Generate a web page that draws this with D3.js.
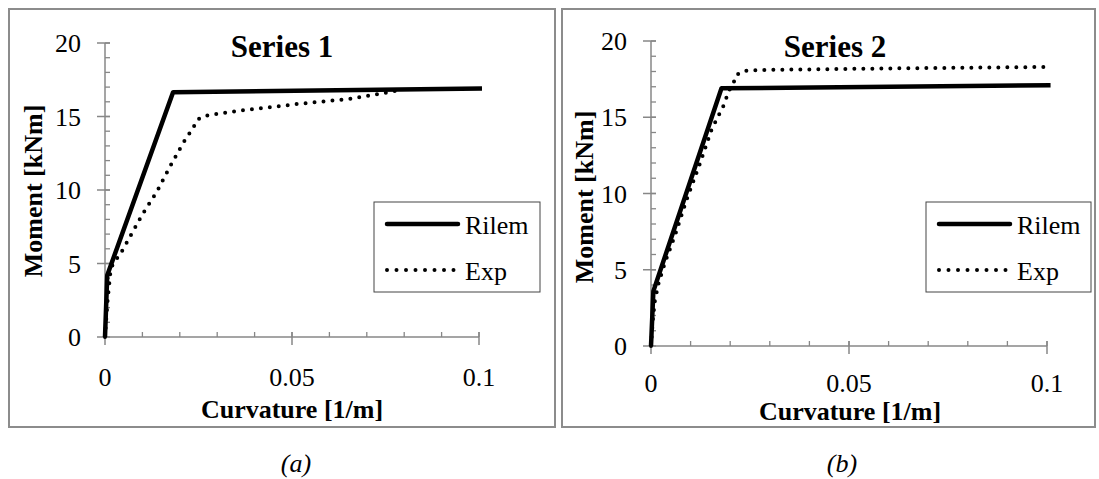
<!DOCTYPE html>
<html>
<head>
<meta charset="utf-8">
<script src="https://cdn.jsdelivr.net/npm/d3@7/dist/d3.min.js"></script>
<style>
  body { margin: 0; background: #fff; }
  svg { display: block; }
</style>
</head>
<body>
<div id="chart"></div>
<script>
// ---- data ----
const xTickValues = [0, 0.05, 0.1];
const xTickLabels = ["0", "0.05", "0.1"];
const yTickValues = [0, 5, 10, 15, 20];
const seriesNames = ["Rilem", "Exp"];
const panelTitles = ["Series 1", "Series 2"];
const captions = ["(a)", "(b)"];
const xTitle = "Curvature [1/m]";
const yTitle = "Moment [kNm]";

// series 1 (panel a)
const rilem1 = [[0, 0], [0.0006, 4.2], [0.0182, 16.65], [0.1008, 16.9]];
const exp1 = [[0, 0], [0.0007, 2.5], [0.0014, 4.3], [0.0021, 5.0], [0.004, 5.6], [0.0062, 6.6],
  [0.0099, 8.3], [0.0139, 9.9], [0.0174, 11.6], [0.0209, 13.2], [0.0235, 14.2], [0.0248, 14.8],
  [0.0267, 15.05], [0.036, 15.4], [0.0515, 15.85], [0.0655, 16.2], [0.078, 16.75]];

// series 2 (panel b)
const rilem2 = [[0, 0], [0.0006, 3.6], [0.0178, 16.9], [0.1009, 17.1]];
const exp2 = [[0, 0], [0.0005, 1.8], [0.001, 3.0], [0.0019, 4.1], [0.0035, 5.45], [0.0061, 7.3],
  [0.009, 9.6], [0.0124, 12.0], [0.0153, 14.2], [0.0184, 15.8], [0.0196, 16.7], [0.0209, 17.3],
  [0.0217, 17.8], [0.0235, 18.05], [0.028, 18.1], [0.06, 18.2], [0.1, 18.3]];

// ---- layout (pixels) ----
const panels = [
  {title: panelTitles[0], caption: captions[0], rilem: rilem1, exp: exp1,
   frame: [9, 9, 555, 427], xr: [105, 479], yr: [337, 43], titleX: 282,
   legend: [374, 202, 540, 292], yTitleX: 42, yTitleY: 191, xTitleX: 292, xTitleY: 418,
   tickY: 386, capX: 296},
  {title: panelTitles[1], caption: captions[1], rilem: rilem2, exp: exp2,
   frame: [562, 9, 1095, 427], xr: [651, 1047], yr: [346, 41], titleX: 835,
   legend: [926, 202, 1091, 292], yTitleX: 593, yTitleY: 197, xTitleX: 850, xTitleY: 420,
   tickY: 392, capX: 842}
];

const serif = "Liberation Serif";

const svg = d3.select("#chart").append("svg")
  .attr("width", 1099)
  .attr("height", 479);

const axisGrey = "#878787";

panels.forEach(p => drawPanel(p));

function addText(sel, size) {
  return sel.append("text")
    .attr("font-family", serif)
    .attr("font-size", size)
    .attr("fill", "#000");
}

function drawPanel(p) {
  const g = svg.append("g");
  const x = d3.scaleLinear().domain([0, 0.1]).range(p.xr);
  const y = d3.scaleLinear().domain([0, 20]).range(p.yr);

  // outer frame
  g.append("rect")
    .attr("x", p.frame[0]).attr("y", p.frame[1])
    .attr("width", p.frame[2] - p.frame[0]).attr("height", p.frame[3] - p.frame[1])
    .attr("fill", "none").attr("stroke", "#8c8c8c").attr("stroke-width", 2);

  const x0 = x(0), y0 = y(0);

  // minor ticks (inside)
  g.selectAll(".ymin").data(d3.range(1, 21)).enter().append("line")
    .attr("x1", x0).attr("x2", x0 + 5)
    .attr("y1", d => y(d)).attr("y2", d => y(d))
    .attr("stroke", axisGrey).attr("stroke-width", 1.3);
  g.selectAll(".xmin").data(d3.range(1, 11).map(d => d / 100)).enter().append("line")
    .attr("x1", d => x(d)).attr("x2", d => x(d))
    .attr("y1", y0).attr("y2", y0 - 5)
    .attr("stroke", axisGrey).attr("stroke-width", 1.3);

  // major ticks (cross)
  g.selectAll(".ymaj").data(yTickValues).enter().append("line")
    .attr("x1", x0 - 8).attr("x2", x0 + 5)
    .attr("y1", d => y(d)).attr("y2", d => y(d))
    .attr("stroke", axisGrey).attr("stroke-width", 1.5);
  g.selectAll(".xmaj").data(xTickValues).enter().append("line")
    .attr("x1", d => x(d)).attr("x2", d => x(d))
    .attr("y1", y0 + 8).attr("y2", y0 - 5)
    .attr("stroke", axisGrey).attr("stroke-width", 1.5);

  // axis lines
  g.append("line").attr("x1", x0).attr("x2", x0).attr("y1", y(20)).attr("y2", y0)
    .attr("stroke", axisGrey).attr("stroke-width", 1.5);
  g.append("line").attr("x1", x0).attr("x2", x(0.1)).attr("y1", y0).attr("y2", y0)
    .attr("stroke", axisGrey).attr("stroke-width", 1.5);

  // tick labels
  yTickValues.forEach(v => {
    addText(g, 26).attr("x", x0 - 24).attr("y", y(v) + 9)
      .attr("text-anchor", "end").text(v);
  });
  xTickValues.forEach((v, i) => {
    addText(g, 26).attr("x", x(v)).attr("y", p.tickY)
      .attr("text-anchor", "middle").text(xTickLabels[i]);
  });

  // titles
  addText(g, 31).attr("x", p.titleX).attr("y", 57)
    .attr("text-anchor", "middle").attr("font-weight", "bold")
    .text(p.title);
  addText(g, 26).attr("x", p.xTitleX).attr("y", p.xTitleY)
    .attr("text-anchor", "middle").attr("font-weight", "bold")
    .text(xTitle);
  addText(g, 26)
    .attr("transform", `translate(${p.yTitleX},${p.yTitleY}) rotate(-90)`)
    .attr("text-anchor", "middle").attr("font-weight", "bold")
    .text(yTitle);

  // series
  const line = d3.line().x(d => x(d[0])).y(d => y(d[1]));
  g.append("path").datum(p.exp).attr("d", line)
    .attr("fill", "none").attr("stroke", "#000").attr("stroke-width", 4)
    .attr("stroke-linecap", "round").attr("stroke-dasharray", "0 9");
  g.append("path").datum(p.rilem).attr("d", line)
    .attr("fill", "none").attr("stroke", "#000").attr("stroke-width", 4.5)
    .attr("stroke-linejoin", "round");

  // legend
  const L = p.legend;
  g.append("rect").attr("x", L[0]).attr("y", L[1])
    .attr("width", L[2] - L[0]).attr("height", L[3] - L[1])
    .attr("fill", "#fff").attr("stroke", "#444").attr("stroke-width", 1);
  seriesNames.forEach((name, i) => {
    const ly = L[1] + 22 + i * 46;
    const ln = g.append("line")
      .attr("x1", L[0] + 13).attr("x2", L[0] + 84)
      .attr("y1", ly).attr("y2", ly)
      .attr("stroke", "#000").attr("stroke-linecap", "round");
    if (i === 0) ln.attr("stroke-width", 4.5);
    else ln.attr("stroke-width", 4).attr("stroke-dasharray", "0 9.5");
    addText(g, 26).attr("x", L[0] + 91).attr("y", ly + 10).text(name);
  });

  // caption below frame
  addText(svg, 26).attr("x", p.capX).attr("y", 472)
    .attr("text-anchor", "middle").attr("font-style", "italic")
    .text(p.caption);
}
</script>
</body>
</html>
